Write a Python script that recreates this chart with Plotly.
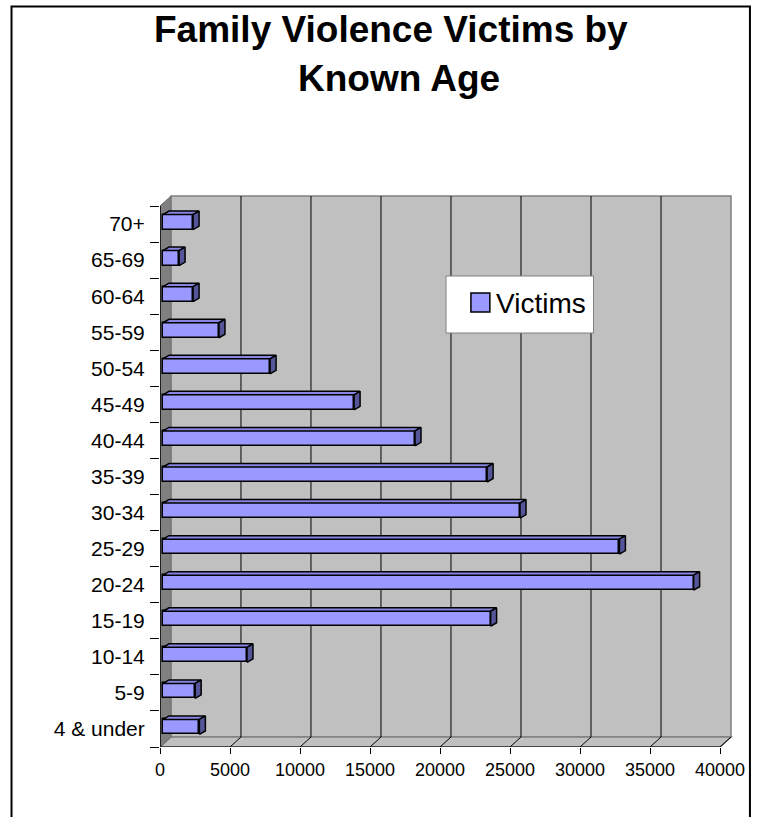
import plotly.graph_objects as go

# ---------------- data ----------------
categories = ["4 & under", "5-9", "10-14", "15-19", "20-24", "25-29", "30-34",
              "35-39", "40-44", "45-49", "50-54", "55-59", "60-64", "65-69", "70+"]
victims = [2600, 2300, 6000, 23400, 37900, 32600, 25500,
           23150, 18000, 13650, 7650, 4000, 2150, 1150, 2150]
x_ticks = [0, 5000, 10000, 15000, 20000, 25000, 30000, 35000, 40000]
series_name = "Victims"
title_lines = ["Family Violence Victims by", "Known Age"]

# ---------------- geometry (pixels) ----------------
W, H = 757, 817
PL, PR, PT, PB = 160, 735, 195, 747          # plot area in px
FRONT_R, FRONT_T = 722, 206                  # front plane extent
X_MAX = x_ticks[-1]
n = len(categories)
ux = X_MAX / (FRONT_R - PL)                  # data units per px (x)
uy = n / (PB - FRONT_T)                      # category units per px (y)
WDX, WDY = 11, 10                            # wall depth (px)
BOX, BOY = 3, 2                              # bar front-face offset (px)
BDX, BDY = 6, 3.5                            # bar depth (px)
BW = 15                                      # bar thickness (px)

xr = [0, (PR - PL) * ux]
yr = [-0.5, -0.5 + (PB - PT) * uy]

FONT = "Arial, Liberation Sans, sans-serif"
BAR_COL = "#9999FF"
TOP_COL = "#8686E2"
SIDE_COL = "#55559A"

def px(p):
    return (p - PL) / (PR - PL)

def py(p):
    return (PB - p) / (PB - PT)

idx = list(range(n))
base = BOX * ux
width = BW * uy
offset = -width / 2 + BOY * uy

fig = go.Figure()

fig.add_trace(go.Bar(
    x=victims, y=idx, base=base, orientation="h", width=width, offset=offset,
    marker=dict(color=BAR_COL, line=dict(color="black", width=1.5)),
    name=series_name, showlegend=False, hoverinfo="x+text",
    text=categories, textposition="none"))

# 3D faces computed from the data
top_x, top_y, side_x, side_y = [], [], [], []
bdx, bdy = BDX * ux, BDY * uy
for i, v in zip(idx, victims):
    x0, x1 = base, base + v
    yb = i + offset
    yt = yb + width
    top_x += [x0, x1, x1 + bdx, x0 + bdx, x0, None]
    top_y += [yt, yt, yt + bdy, yt + bdy, yt, None]
    side_x += [x1, x1, x1 + bdx, x1 + bdx, x1, None]
    side_y += [yb, yt, yt + bdy, yb + bdy, yb, None]

fig.add_trace(go.Scatter(x=top_x, y=top_y, mode="lines", fill="toself",
                         fillcolor=TOP_COL, line=dict(color="black", width=1.5),
                         showlegend=False, hoverinfo="skip"))
fig.add_trace(go.Scatter(x=side_x, y=side_y, mode="lines", fill="toself",
                         fillcolor=SIDE_COL, line=dict(color="black", width=1.5),
                         showlegend=False, hoverinfo="skip"))

shapes = []
wdx, wdy = WDX * ux, WDY * uy
ylo, yhi = -0.5, n - 0.5
# back wall
shapes.append(dict(type="rect", xref="x", yref="y", layer="below",
                   x0=wdx, x1=X_MAX + wdx, y0=ylo + wdy, y1=yhi + wdy,
                   fillcolor="#C0C0C0", line=dict(color="#808080", width=1.5)))
# floor
shapes.append(dict(type="path", xref="x", yref="y", layer="below",
                   path=f"M0,{ylo} L{X_MAX},{ylo} L{X_MAX + wdx},{ylo + wdy} L{wdx},{ylo + wdy} Z",
                   fillcolor="#C0C0C0", line=dict(color="#808080", width=1.5)))
# side wall
shapes.append(dict(type="path", xref="x", yref="y", layer="below",
                   path=f"M0,{ylo} L0,{yhi} L{wdx},{yhi + wdy} L{wdx},{ylo + wdy} Z",
                   fillcolor="#808080", line=dict(color="#707070", width=1)))
# gridlines on back wall and floor
for t in x_ticks[1:-1]:
    shapes.append(dict(type="line", xref="x", yref="y", layer="below",
                       x0=t + wdx, x1=t + wdx, y0=ylo + wdy, y1=yhi + wdy,
                       line=dict(color="#000000", width=1)))
for t in x_ticks[1:]:
    shapes.append(dict(type="line", xref="x", yref="y", layer="below",
                       x0=t, x1=t + wdx, y0=ylo, y1=ylo + wdy,
                       line=dict(color="#000000", width=1)))
# front axis edges
shapes.append(dict(type="line", xref="x", yref="y", layer="above",
                   x0=0, x1=X_MAX, y0=ylo, y1=ylo, line=dict(color="black", width=1)))
shapes.append(dict(type="line", xref="x", yref="y", layer="above",
                   x0=0, x1=0, y0=ylo, y1=yhi, line=dict(color="black", width=1.5)))

# legend
shapes.append(dict(type="rect", xref="paper", yref="paper", layer="above",
                   x0=px(447), x1=px(595), y0=py(333), y1=py(276),
                   fillcolor="white", line=dict(color="#808080", width=1)))
shapes.append(dict(type="rect", xref="paper", yref="paper", layer="above",
                   x0=px(472), x1=px(491), y0=py(312), y1=py(293),
                   fillcolor=BAR_COL, line=dict(color="black", width=1.5)))
# outer frame
shapes.append(dict(type="rect", xref="paper", yref="paper", layer="above",
                   x0=px(11), x1=px(752), y0=py(840), y1=py(6.5),
                   fillcolor="rgba(0,0,0,0)", line=dict(color="black", width=2)))

annotations = [
    dict(text=series_name, xref="paper", yref="paper", x=px(495), y=py(303),
         xanchor="left", yanchor="middle", showarrow=False,
         font=dict(family=FONT, size=28, color="black")),
    dict(text="<b>" + title_lines[0] + "</b>", xref="paper", yref="paper",
         x=px(392), y=py(29), xanchor="center", yanchor="middle", showarrow=False,
         font=dict(family=FONT, size=37, color="black")),
    dict(text="<b>" + title_lines[1] + "</b>", xref="paper", yref="paper",
         x=px(400), y=py(78), xanchor="center", yanchor="middle", showarrow=False,
         font=dict(family=FONT, size=37, color="black")),
]

fig.update_layout(
    width=W, height=H, margin=dict(l=PL, r=W - PR, t=PT, b=H - PB, pad=0),
    paper_bgcolor="white", plot_bgcolor="rgba(0,0,0,0)",
    shapes=shapes, annotations=annotations, showlegend=False, bargap=0,
    xaxis=dict(range=xr, tickmode="array", tickvals=x_ticks,
               ticktext=[str(t) for t in x_ticks], ticks="outside", ticklen=6,
               tickcolor="black", showline=False, showgrid=False, zeroline=False,
               tickfont=dict(family=FONT, size=18, color="black"), fixedrange=True),
    yaxis=dict(range=yr, tickmode="array", tickvals=idx, ticktext=categories,
               ticks="outside", ticklen=10, tickcolor="rgba(0,0,0,0)",
               showline=False, showgrid=False, zeroline=False,
               tickfont=dict(family=FONT, size=21, color="black"),
               minor=dict(tickmode="array", tickvals=[i - 0.5 for i in range(n + 1)],
                          ticks="outside", ticklen=9, tickcolor="black", showgrid=False),
               fixedrange=True),
)

fig.write_html("out.html")
